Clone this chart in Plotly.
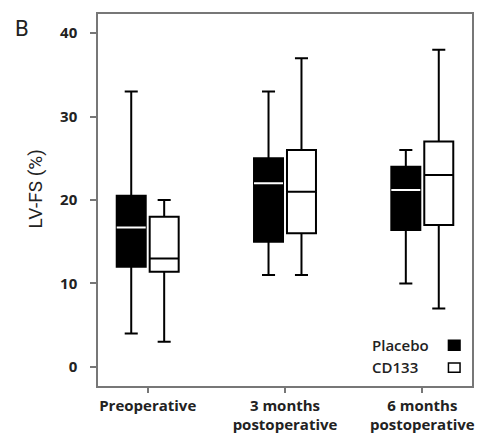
import plotly.graph_objects as go

categories = ["Preoperative", "3 months<br>postoperative", "6 months<br>postoperative"]

placebo_low = [4, 11, 10]
placebo_q1 = [12, 15, 16.4]
placebo_median = [16.7, 22, 21.2]
placebo_q3 = [20.5, 25, 24]
placebo_high = [33, 33, 26]

cd133_low = [3, 11, 7]
cd133_q1 = [11.4, 16, 17]
cd133_median = [13, 21, 23]
cd133_q3 = [18, 26, 27]
cd133_high = [20, 37, 38]

y_ticks = [0, 10, 20, 30, 40]

fig = go.Figure()

fig.add_trace(go.Box(
    name="Placebo", x=categories, offsetgroup="p",
    lowerfence=placebo_low, q1=placebo_q1, median=placebo_median,
    q3=placebo_q3, upperfence=placebo_high,
    fillcolor="black", line=dict(color="black", width=2),
    whiskerwidth=0.45, showlegend=False, hoverinfo="skip",
))
# white median line on black boxes
fig.add_trace(go.Box(
    name="Placebo median", x=categories, offsetgroup="p",
    lowerfence=placebo_median, q1=placebo_median, median=placebo_median,
    q3=placebo_median, upperfence=placebo_median,
    fillcolor="rgba(0,0,0,0)", line=dict(color="white", width=2),
    whiskerwidth=0, showlegend=False, hoverinfo="skip",
))
fig.add_trace(go.Box(
    name="CD133", x=categories, offsetgroup="c",
    lowerfence=cd133_low, q1=cd133_q1, median=cd133_median,
    q3=cd133_q3, upperfence=cd133_high,
    fillcolor="white", line=dict(color="black", width=2),
    whiskerwidth=0.45, showlegend=False, hoverinfo="skip",
))

axis_color = "#777777"
text_color = "#222222"
fig.update_layout(
    width=487, height=446,
    margin=dict(l=98, r=13, t=13, b=59),
    paper_bgcolor="white", plot_bgcolor="white",
    boxmode="group", boxgap=0.52, boxgroupgap=0.12,
    showlegend=False,
    font=dict(family="Open Sans", color=text_color),
    xaxis=dict(
        type="category", range=[-0.362, 2.362],
        showline=True, linecolor=axis_color, linewidth=1.5, mirror=True,
        ticks="outside", ticklen=5, tickcolor=axis_color, tickwidth=1.5,
        tickfont=dict(family="Open Sans", size=15, color=text_color, weight="bold"),
        showgrid=False, zeroline=False,
    ),
    yaxis=dict(
        range=[-2.3, 42.3], tickvals=y_ticks,
        showline=True, linecolor=axis_color, linewidth=1.5, mirror=True,
        ticks="outside", ticklen=6, tickcolor=axis_color, tickwidth=1.5,
        ticklabelstandoff=10,
        tickfont=dict(family="Open Sans", size=15, color=text_color, weight="bold"),
        showgrid=False, zeroline=False,
    ),
    annotations=[
        dict(text="LV-FS (%)", xref="paper", yref="paper", x=-0.167, y=0.53, xanchor="center", yanchor="middle",
             textangle=-90, showarrow=False, font=dict(family="Roboto", size=19, color=text_color)),
        dict(text="B", xref="paper", yref="paper", x=-0.228, y=0.962, xanchor="left", yanchor="middle",
             showarrow=False, font=dict(family="Roboto", size=22, color=text_color)),
        dict(text="Placebo", xref="paper", yref="paper", x=0.727, y=0.109, xanchor="left", yanchor="middle",
             showarrow=False, font=dict(family="Open Sans", size=15, color=text_color, weight=600)),
        dict(text="CD133", xref="paper", yref="paper", x=0.727, y=0.05, xanchor="left", yanchor="middle",
             showarrow=False, font=dict(family="Open Sans", size=15, color=text_color, weight=600)),
    ],
    shapes=[
        dict(type="rect", xref="paper", yref="paper", x0=0.937, x1=0.968, y0=0.096, y1=0.123,
             fillcolor="black", line=dict(color="black", width=1.5)),
        dict(type="rect", xref="paper", yref="paper", x0=0.937, x1=0.968, y0=0.037, y1=0.062,
             fillcolor="white", line=dict(color="black", width=1.5)),
    ],
)

fig.write_html("out.html", config={"displayModeBar": False},
               post_script="document.body.style.margin='0';")
